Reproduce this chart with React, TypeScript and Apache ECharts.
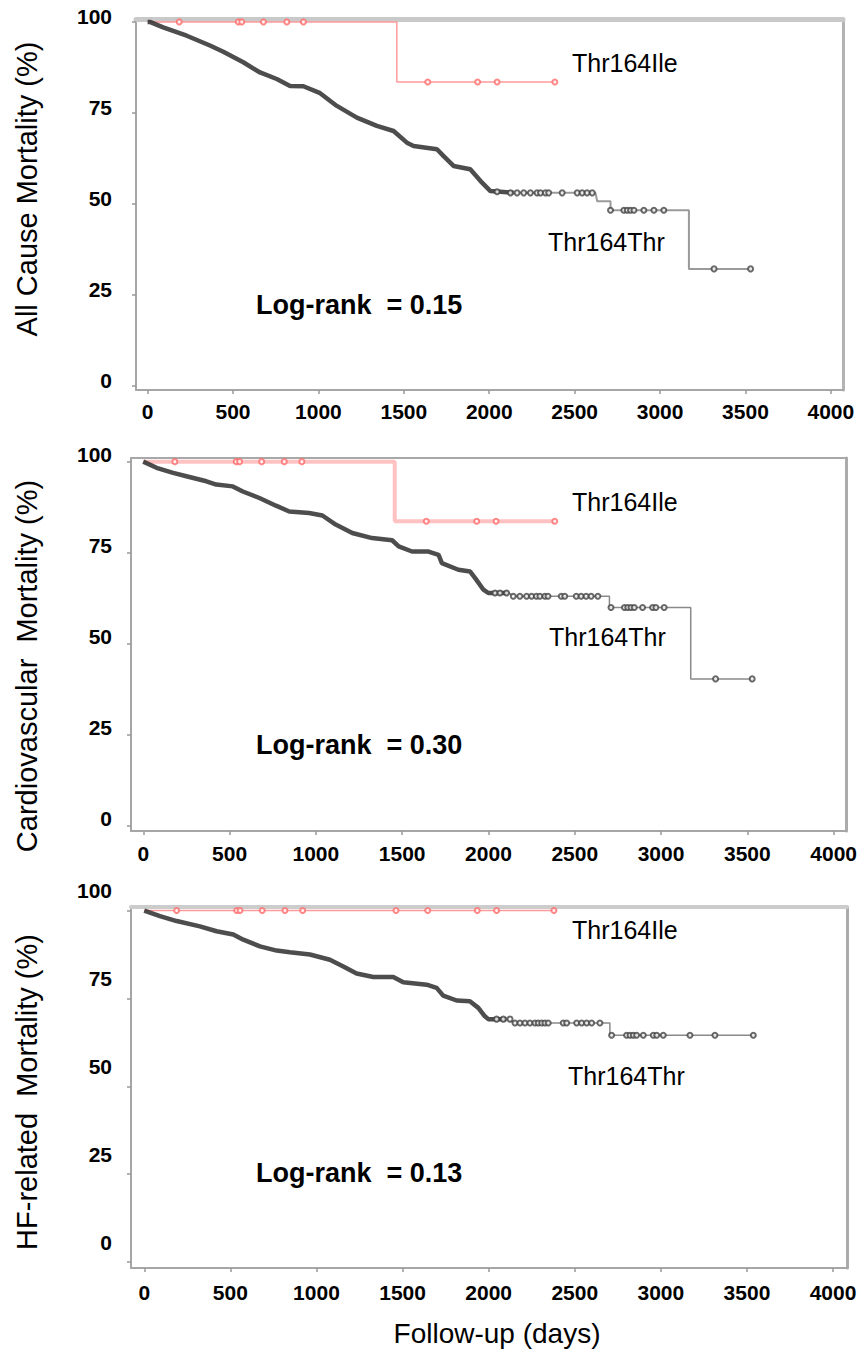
import * as echarts from "echarts";
import { useEffect, useRef } from "react";

const WIDTH = 860;
const HEIGHT = 1355;
const FONT = '"Liberation Sans", Arial, Helvetica, sans-serif';

type Pt = [number, number];

const xTicks = [0, 500, 1000, 1500, 2000, 2500, 3000, 3500, 4000];
const yTicks = [0, 25, 50, 75, 100];

// ---- All cause mortality ----
const allThrCurve: Pt[] = [
  [0, 100], [13, 100], [91, 98.5], [229, 96.2], [365, 93.5], [443, 91.8], [560, 88.9],
  [658, 86.1], [756, 84.3], [834, 82.4], [912, 82.3], [1010, 80.4], [1108, 76.9],
  [1225, 73.7], [1342, 71.4], [1440, 70.0], [1518, 66.8], [1557, 65.9], [1694, 65.0],
  [1733, 63.1], [1791, 60.4], [1889, 59.5], [1958, 55.8], [2007, 53.5], [2143, 53.0],
  [2622, 53.0], [2632, 50.7], [2710, 50.7], [2710, 48.2], [3169, 48.2], [3169, 32.1],
  [3540, 32.1],
];
const allThrCensor: Pt[] = [
  [2046, 53.3], [2124, 53], [2163, 53], [2202, 53], [2241, 53], [2280, 53], [2300, 53],
  [2329, 53], [2348, 53], [2427, 53], [2515, 53], [2544, 53], [2573, 53], [2603, 53],
  [2710, 48.2], [2788, 48.2], [2808, 48.2], [2827, 48.2], [2847, 48.2], [2905, 48.2],
  [2964, 48.2], [3022, 48.2], [3316, 32.1], [3530, 32.1],
];
const allIleCurve: Pt[] = [[0, 100], [1459, 100], [1459, 83.5], [2388, 83.5]];
const allIleCensor: Pt[] = [
  [185, 100], [531, 100], [551, 100], [678, 100], [815, 100], [912, 100],
  [1640, 83.5], [1932, 83.5], [2046, 83.5], [2384, 83.5],
];

// ---- Cardiovascular mortality ----
const cvThrCurve: Pt[] = [
  [0, 100], [77, 98.3], [173, 96.9], [250, 96.0], [366, 94.6], [423, 93.7], [519, 93.2],
  [577, 91.8], [673, 90.0], [769, 87.9], [846, 86.3], [961, 85.9], [1038, 85.2],
  [1115, 82.7], [1211, 80.4], [1326, 79.0], [1442, 78.4], [1480, 76.7], [1557, 75.3],
  [1653, 75.3], [1711, 74.4], [1730, 72.1], [1826, 70.3], [1894, 69.8], [1923, 68.0],
  [1971, 64.8], [1999, 63.9], [2115, 63.9], [2153, 63.0], [2701, 63.0], [2701, 59.9],
  [3172, 59.9], [3172, 40.3], [3537, 40.3],
];
const cvThrCensor: Pt[] = [
  [2038, 63.9], [2067, 63.9], [2105, 63.9], [2144, 63], [2182, 63], [2221, 63], [2250, 63],
  [2278, 63], [2298, 63], [2327, 63], [2345, 63], [2422, 63], [2442, 63], [2509, 63],
  [2537, 63], [2566, 63], [2595, 63], [2634, 63], [2710, 59.9], [2788, 59.9], [2807, 59.9],
  [2826, 59.9], [2845, 59.9], [2893, 59.9], [2951, 59.9], [2970, 59.9], [3018, 59.9],
  [3316, 40.3], [3528, 40.3],
];
const cvIleCurve: Pt[] = [[0, 100], [1457, 100], [1457, 83.6], [2393, 83.6]];
const cvIleCensor: Pt[] = [
  [183, 100], [539, 100], [558, 100], [686, 100], [817, 100], [919, 100],
  [1640, 83.6], [1932, 83.6], [2044, 83.6], [2384, 83.6],
];

// ---- HF-related mortality ----
const hfThrCurve: Pt[] = [
  [0, 100], [91, 98.4], [188, 97.0], [323, 95.5], [420, 94.1], [517, 93.2], [575, 91.7],
  [672, 89.8], [769, 88.6], [846, 88.1], [962, 87.5], [1078, 86.0], [1156, 84.1],
  [1233, 82.1], [1330, 81.1], [1446, 81.1], [1504, 79.6], [1640, 78.9], [1698, 78.0],
  [1736, 75.8], [1814, 74.4], [1891, 74.2], [1940, 72.3], [1978, 69.9], [1998, 69.1],
  [2104, 69.1], [2153, 68.0], [2704, 68.0], [2704, 64.5], [3546, 64.5],
];
const hfThrCensor: Pt[] = [
  [2046, 69.1], [2085, 69.1], [2124, 69.1], [2153, 68], [2182, 68], [2211, 68], [2240, 68],
  [2269, 68], [2288, 68], [2308, 68], [2327, 68], [2346, 68], [2433, 68], [2453, 68],
  [2511, 68], [2540, 68], [2569, 68], [2598, 68], [2646, 68], [2714, 64.5], [2801, 64.5],
  [2821, 64.5], [2840, 64.5], [2859, 64.5], [2898, 64.5], [2956, 64.5], [2976, 64.5],
  [3014, 64.5], [3169, 64.5], [3314, 64.5], [3537, 64.5],
];
const hfIleCurve: Pt[] = [[0, 100], [2395, 100]];
const hfIleCensor: Pt[] = [
  [188, 100], [537, 100], [556, 100], [685, 100], [817, 100], [920, 100], [1462, 100],
  [1646, 100], [1934, 100], [2046, 100], [2379, 100],
];

const panels = [
  {
    title: "All Cause Mortality (%)",
    logRank: "Log-rank  = 0.15",
    thr: allThrCurve, thrCensor: allThrCensor, ile: allIleCurve, ileCensor: allIleCensor,
    grid: { left: 136, top: 19, width: 707, height: 371 },
    x: [-68, 4071], y: [-1.2, 100.8],
    topLine: { color: "#c9c9c9", width: 5 }, rightLine: { color: "#b3b3b3", width: 3 },
    ileLine: { color: "#ff9a9a", width: 1.5 },
    tailLine: { color: "#9a9a9a", width: 2 },
    // tick labels sit above their ticks in the source figure (lift = lineHeight / 2)
    yLabelLift: 5.5, yLabelMargin: 24, xLabelMargin: 11,
    titlePos: [27, 189], ilePos: [572, 63], thrPos: [548, 242], logPos: [256, 305],
  },
  {
    title: "Cardiovascular  Mortality (%)",
    logRank: "Log-rank  = 0.30",
    thr: cvThrCurve, thrCensor: cvThrCensor, ile: cvIleCurve, ileCensor: cvIleCensor,
    grid: { left: 131, top: 458, width: 719, height: 373 },
    x: [-71, 4073], y: [-1.5, 101],
    topLine: { color: "#a8a8a8", width: 2 }, rightLine: { color: "#ababab", width: 3 },
    ileLine: { color: "#ffc2c2", width: 4 },
    tailLine: { color: "#8a8a8a", width: 1.5 },
    yLabelLift: 7, yLabelMargin: 19, xLabelMargin: 12,
    titlePos: [27, 666], ilePos: [572, 502], thrPos: [549, 637], logPos: [256, 745],
  },
  {
    title: "HF-related  Mortality (%)",
    logRank: "Log-rank  = 0.13",
    thr: hfThrCurve, thrCensor: hfThrCensor, ile: hfIleCurve, ileCensor: hfIleCensor,
    grid: { left: 131, top: 907, width: 716, height: 361 },
    x: [-77, 4081], y: [-1.7, 101],
    topLine: { color: "#cccccc", width: 4 }, rightLine: { color: "#ababab", width: 3 },
    ileLine: { color: "#ff9a9a", width: 1.5 },
    tailLine: { color: "#8a8a8a", width: 1.5 },
    yLabelLift: 20, yLabelMargin: 19, xLabelMargin: 14,
    titlePos: [27, 1092], ilePos: [572, 930], thrPos: [568, 1076], logPos: [256, 1173],
  },
];

const DENSE_UNTIL = 2050; // days: the early part of the curve is a thick, dense band

function splitCurve(curve: Pt[]): [Pt[], Pt[]] {
  const idx = curve.findIndex((p) => p[0] > DENSE_UNTIL);
  return [curve.slice(0, idx + 1), curve.slice(idx)];
}

const tickLabel = {
  color: "#000",
  fontFamily: FONT,
  fontWeight: "bold" as const,
  fontSize: 21,
  formatter: (v: number) => String(v),
};

const lineOnly = {
  type: "value" as const,
  min: 0,
  max: 1,
  axisTick: { show: false },
  axisLabel: { show: false },
  splitLine: { show: false },
};

function buildOption(): echarts.EChartsOption {
  const grid: any[] = [];
  const xAxis: any[] = [];
  const yAxis: any[] = [];
  const series: any[] = [];
  const graphic: any[] = [];

  panels.forEach((p, i) => {
    grid.push({ ...p.grid, containLabel: false });
    const ai = i * 2;
    xAxis.push(
      {
        type: "value",
        gridIndex: i,
        min: p.x[0],
        max: p.x[1],
        axisLine: { onZero: false, lineStyle: { color: "#a6a6a6", width: 2 } },
        axisTick: { customValues: xTicks, length: 4, lineStyle: { color: "#999", width: 1.5 } },
        axisLabel: { ...tickLabel, customValues: xTicks, margin: p.xLabelMargin },
        splitLine: { show: false },
      },
      {
        ...lineOnly,
        gridIndex: i,
        position: "top",
        axisLine: { onZero: false, lineStyle: p.topLine },
      },
    );
    yAxis.push(
      {
        type: "value",
        gridIndex: i,
        min: p.y[0],
        max: p.y[1],
        axisLine: { onZero: false, lineStyle: { color: "#a6a6a6", width: 2 } },
        axisTick: { customValues: yTicks, length: 4, lineStyle: { color: "#999", width: 1.5 } },
        axisLabel: {
          ...tickLabel,
          customValues: yTicks,
          margin: p.yLabelMargin,
          verticalAlign: "bottom",
          lineHeight: p.yLabelLift * 2,
        },
        splitLine: { show: false },
      },
      {
        ...lineOnly,
        gridIndex: i,
        position: "right",
        axisLine: { onZero: false, lineStyle: p.rightLine },
      },
    );

    const [dense, tail] = splitCurve(p.thr);
    const base = { xAxisIndex: ai, yAxisIndex: ai, silent: true };
    series.push(
      {
        ...base,
        type: "line",
        name: "Thr164Ile",
        data: p.ile,
        showSymbol: false,
        lineStyle: p.ileLine,
        z: 3,
      },
      {
        ...base,
        type: "scatter",
        data: p.ileCensor,
        symbol: "emptyCircle",
        symbolSize: 5,
        itemStyle: { color: "#ff6b6b", borderWidth: 1.5 },
        z: 4,
      },
      {
        ...base,
        type: "line",
        name: "Thr164Thr",
        data: dense,
        showSymbol: false,
        lineStyle: { color: "#2e2e2e", width: 4.5, opacity: 0.85 },
        z: 5,
      },
      {
        ...base,
        type: "line",
        data: tail,
        showSymbol: false,
        lineStyle: p.tailLine,
        z: 5,
      },
      {
        ...base,
        type: "scatter",
        data: p.thrCensor,
        symbol: "emptyCircle",
        symbolSize: 5,
        itemStyle: { color: "#444", borderWidth: 1.5 },
        z: 6,
      },
    );

    graphic.push(
      {
        type: "text",
        x: p.titlePos[0],
        y: p.titlePos[1],
        rotation: Math.PI / 2,
        style: {
          text: p.title,
          fontFamily: FONT,
          fontSize: 29,
          fill: "#000",
          align: "center",
          verticalAlign: "middle",
        },
      },
      {
        type: "text",
        x: p.ilePos[0],
        y: p.ilePos[1],
        style: { text: "Thr164Ile", fontFamily: FONT, fontSize: 25, fill: "#000", verticalAlign: "middle" },
      },
      {
        type: "text",
        x: p.thrPos[0],
        y: p.thrPos[1],
        style: { text: "Thr164Thr", fontFamily: FONT, fontSize: 25, fill: "#000", verticalAlign: "middle" },
      },
      {
        type: "text",
        x: p.logPos[0],
        y: p.logPos[1],
        style: {
          text: p.logRank,
          fontFamily: FONT,
          fontSize: 27,
          fontWeight: "bold",
          fill: "#000",
          verticalAlign: "middle",
        },
      },
    );
  });

  graphic.push({
    type: "text",
    x: 497,
    y: 1333,
    style: {
      text: "Follow-up (days)",
      fontFamily: FONT,
      fontSize: 28,
      fill: "#000",
      align: "center",
      verticalAlign: "middle",
    },
  });

  return {
    animation: false,
    backgroundColor: "#fff",
    grid,
    xAxis,
    yAxis,
    series,
    graphic,
  };
}

export default function App() {
  const ref = useRef<HTMLDivElement>(null);

  useEffect(() => {
    if (!ref.current) return;
    const chart = echarts.init(ref.current, null, { renderer: "svg" });
    chart.setOption(buildOption());
    return () => chart.dispose();
  }, []);

  return (
    <div
      ref={ref}
      style={{ position: "absolute", left: 0, top: 0, width: WIDTH, height: HEIGHT }}
    />
  );
}
